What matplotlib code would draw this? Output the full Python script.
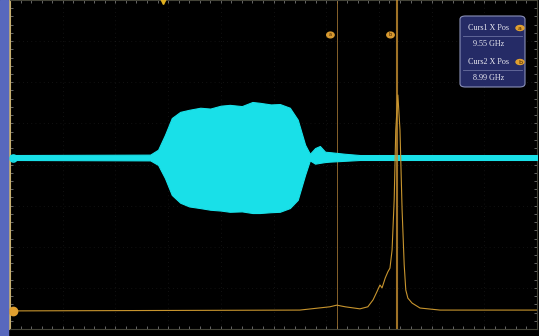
import matplotlib.pyplot as plt
from matplotlib.patches import Rectangle, FancyBboxPatch, Circle

# screen in divisions: 10 across, 8 high
ch1_x = [0.0, 2.66, 2.81, 2.94, 3.07, 3.23, 3.40, 3.61, 3.80, 4.00, 4.17, 4.40,
         4.60, 4.74, 4.95, 5.12, 5.31, 5.46, 5.60, 5.69, 5.79, 5.88, 5.98, 6.07,
         6.36, 6.64, 10.0]
ch1_hi = [4.23, 4.24, 4.36, 4.72, 5.13, 5.28, 5.33, 5.38, 5.36, 5.43, 5.45, 5.42,
          5.52, 5.50, 5.46, 5.47, 5.38, 5.09, 4.48, 4.26, 4.40, 4.45, 4.31, 4.30,
          4.26, 4.23, 4.23]
ch1_lo = [4.11, 4.10, 3.99, 3.67, 3.26, 3.07, 2.98, 2.94, 2.90, 2.88, 2.85, 2.86,
          2.82, 2.82, 2.84, 2.85, 2.94, 3.14, 3.75, 4.10, 4.02, 4.04, 4.06, 4.07,
          4.09, 4.11, 4.11]

ch2_x = [0.0, 5.50, 6.07, 6.20, 6.36, 6.64, 6.79, 6.89, 6.96, 7.02, 7.06, 7.12,
         7.17, 7.21, 7.25, 7.29, 7.32, 7.36, 7.40, 7.44, 7.48, 7.51, 7.55, 7.63,
         7.78, 8.16, 10.0]
ch2_y = [0.44, 0.46, 0.54, 0.58, 0.54, 0.49, 0.54, 0.71, 0.90, 1.07, 1.00, 1.24,
         1.39, 1.48, 1.92, 3.14, 4.84, 5.69, 4.84, 2.90, 1.56, 0.95, 0.75, 0.63,
         0.51, 0.46, 0.46]

curs_a = 6.20
curs_b = 7.34
box_lines = ["Curs1 X Pos", "9.55 GHz", "Curs2 X Pos", "8.99 GHz"]

W, H = 539, 336
fig = plt.figure(figsize=(W / 100, H / 100), dpi=100, facecolor="black")
fig.patches.append(Rectangle((0, 0), 8 / W, 1, transform=fig.transFigure,
                             color="#5868bd", zorder=0))
ax = fig.add_axes([10 / W, 7 / H, 527 / W, 329 / H], facecolor="black")
ax.set_xlim(0, 10)
ax.set_ylim(0, 8)

for v in range(1, 10):
    ax.axvline(v, color="#777777", lw=0.6, ls=(0, (1, 4)), alpha=0.2, zorder=1)
for v in range(1, 8):
    ax.axhline(v, color="#777777", lw=0.6, ls=(0, (1, 4)), alpha=0.2, zorder=1)

ax.set_xticks([i / 5 for i in range(51)])
ax.set_yticks([i / 5 for i in range(41)])
ax.tick_params(which="both", direction="in", length=2.5, color="#777777",
               top=True, right=True, labelbottom=False, labelleft=False,
               width=0.6)
for s in ax.spines.values():
    s.set_color("#444438")
    s.set_linewidth(0.8)
ax.spines["left"].set_color("#c8b070")
ax.spines["left"].set_linewidth(1.5)

# channel 1 burst
ax.fill_between(ch1_x, ch1_lo, ch1_hi, color="#19e0e8", lw=0.8,
                edgecolor="#19e0e8", zorder=3)

# cursors
ax.axvline(curs_a, color="#a87a35", lw=0.7, alpha=0.8, zorder=2)
ax.axvline(curs_b, color="#c89030", lw=1.5, alpha=0.8, zorder=4)

# channel 2 spectrum
ax.plot(ch2_x, ch2_y, color="#c8952e", lw=0.8, zorder=5)

# cursor tags
for cx, tag in [(curs_a, "a"), (curs_b, "b")]:
    ax.add_patch(Circle((cx - 0.12, 7.15), 0.07, transform=ax.transData,
                        color="#d89a30", zorder=6))
    ax.text(cx - 0.12, 7.15, tag, color="#402000", fontsize=3.5,
            ha="center", va="center", zorder=7)

# channel markers on the left edge
ax.plot([0.05], [4.17], "o", ms=5, mfc="none", mec="#19e0e8", mew=1.2,
        clip_on=False, zorder=6)
ax.plot([0.05], [0.44], "o", ms=6, color="#e0a030", clip_on=False, zorder=6)
ax.plot([2.9], [7.97], "v", ms=5, color="#e0b020", clip_on=False, zorder=6)

# readout box
fig.patches.append(FancyBboxPatch((460 / W, 1 - 87 / H), 65 / W, 71 / H,
                                  boxstyle="round,pad=0,rounding_size=0.01",
                                  transform=fig.transFigure, fc="#252b66",
                                  ec="#8a90b8", lw=0.8, zorder=10))
ys = [28, 44, 62, 78]
for i, txt in enumerate(box_lines):
    fig.text(489 / W, 1 - ys[i] / H, txt, color="#e8e8f0", fontsize=5.9,
             family="Liberation Serif", ha="center", va="center", zorder=11)
for yy in (36, 70):
    fig.lines.append(plt.Line2D([463 / W, 522 / W], [1 - yy / H, 1 - yy / H],
                                transform=fig.transFigure, color="#6a70a0",
                                lw=0.6, zorder=11))
for yy, tag in [(28, "a"), (62, "b")]:
    fig.patches.append(Circle((520 / W, 1 - yy / H), 4 / W,
                              transform=fig.transFigure, color="#e0a030",
                              zorder=12))
    fig.text(520 / W, 1 - yy / H, tag, color="#402000", fontsize=4.5,
             ha="center", va="center", zorder=13)

fig.savefig("out.png", dpi=100, facecolor="black")
